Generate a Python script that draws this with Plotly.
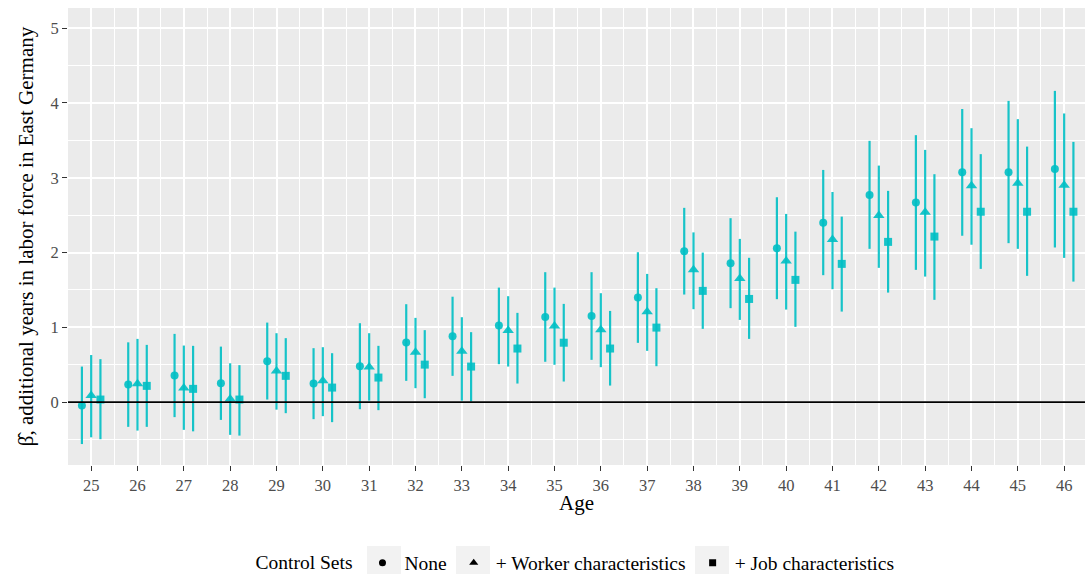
import plotly.graph_objects as go

ages = list(range(25, 47))

none_est = [-0.045, 0.235, 0.356, 0.254, 0.548, 0.249, 0.481, 0.797, 0.882, 1.024, 1.14, 1.152,
            1.40, 2.019, 1.858, 2.058, 2.40, 2.771, 2.668, 3.075, 3.075, 3.117]
none_lo = [-0.56, -0.33, -0.20, -0.237, 0.035, -0.227, -0.094, 0.285, 0.352, 0.508, 0.54, 0.566,
           0.793, 1.439, 1.257, 1.377, 1.698, 2.05, 1.769, 2.225, 2.126, 2.068]
none_hi = [0.476, 0.80, 0.913, 0.743, 1.064, 0.722, 1.056, 1.31, 1.41, 1.532, 1.738, 1.738,
           2.005, 2.598, 2.46, 2.74, 3.105, 3.494, 3.57, 3.92, 4.028, 4.162]

worker_est = [0.088, 0.245, 0.19, 0.044, 0.418, 0.285, 0.47, 0.668, 0.68, 0.957, 1.02, 0.967,
              1.21, 1.769, 1.652, 1.889, 2.174, 2.495, 2.54, 2.894, 2.928, 2.9]
worker_lo = [-0.47, -0.38, -0.37, -0.437, -0.10, -0.187, 0.02, 0.187, 0.02, 0.476, 0.50, 0.468,
             0.686, 1.243, 1.10, 1.238, 1.511, 1.796, 1.679, 2.105, 2.05, 1.929]
worker_hi = [0.63, 0.846, 0.757, 0.52, 0.922, 0.735, 0.922, 1.127, 1.136, 1.417, 1.532, 1.457,
             1.715, 2.27, 2.183, 2.517, 2.81, 3.163, 3.373, 3.663, 3.784, 3.86]

job_est = [0.035, 0.218, 0.178, 0.035, 0.352, 0.195, 0.329, 0.502, 0.476, 0.717, 0.795, 0.717,
           0.997, 1.488, 1.38, 1.635, 1.849, 2.143, 2.214, 2.546, 2.546, 2.546]
job_lo = [-0.495, -0.33, -0.39, -0.447, -0.147, -0.267, -0.107, 0.053, 0.01, 0.249, 0.276, 0.222,
          0.481, 0.98, 0.846, 1.007, 1.211, 1.465, 1.368, 1.782, 1.689, 1.612]
job_hi = [0.575, 0.766, 0.753, 0.495, 0.856, 0.655, 0.753, 0.963, 0.936, 1.194, 1.314, 1.22,
          1.524, 2.0, 1.93, 2.28, 2.481, 2.825, 3.048, 3.316, 3.417, 3.48]

series_names = ["None", "+ Worker characteristics", "+ Job characteristics"]
symbols = ["circle", "triangle-up", "square"]
sizes = [8, 10, 8]
dodge = [-0.2, 0.0, 0.2]

TEAL = "rgba(0,191,196,0.9)"
FONT = "Liberation Serif, Times New Roman, serif"

fig = go.Figure()

series = [(none_est, none_lo, none_hi), (worker_est, worker_lo, worker_hi), (job_est, job_lo, job_hi)]
for (est, lo, hi), name, sym, sz, dx in zip(series, series_names, symbols, sizes, dodge):
    fig.add_trace(go.Scatter(
        x=[a + dx for a in ages], y=est, mode="markers", showlegend=False, name=name,
        marker=dict(symbol=sym, size=sz, color=TEAL, line=dict(width=0)),
        error_y=dict(type="data", symmetric=False,
                     array=[h - e for h, e in zip(hi, est)],
                     arrayminus=[e - l for e, l in zip(est, lo)],
                     color=TEAL, thickness=2.2, width=0),
    ))

# legend entries (black keys as in the original)
for name, sym in zip(series_names, symbols):
    fig.add_trace(go.Scatter(
        x=[None], y=[None], mode="markers", name=name,
        marker=dict(symbol=sym, size=7 if sym != "triangle-up" else 8, color="black"),
    ))

fig.add_shape(type="line", xref="paper", x0=0, x1=1, yref="y", y0=0, y1=0,
              line=dict(color="black", width=1.6), layer="above")

# grey legend key backgrounds (ggplot legend.key)
for cx in (384, 473, 712):
    fig.add_shape(type="rect", xref="paper", yref="paper",
                  x0=(cx - 17 - 68) / 1017, x1=(cx + 17 - 68) / 1017,
                  y0=(465 - 582) / 457, y1=(465 - 546) / 457,
                  fillcolor="#F2F2F2", line=dict(width=0), layer="above")

# x-axis title
fig.add_annotation(text="Age", xref="paper", yref="paper", x=0.5, y=(465 - 503) / 457,
                   xanchor="center", yanchor="middle", showarrow=False,
                   font=dict(size=21, color="black", family=FONT))

fig.update_layout(
    width=1085, height=574,
    margin=dict(l=68, r=0, t=8, b=109, autoexpand=False),
    paper_bgcolor="white", plot_bgcolor="#EBEBEB",
    font=dict(family=FONT, color="black"),
    showlegend=True,
    legend=dict(orientation="h", x=0.5, xanchor="center",
                yref="container", y=0.019, yanchor="middle",
                itemwidth=34,
                title=dict(text="Control Sets", font=dict(size=19.5, family=FONT)),
                font=dict(size=19.5, family=FONT), bgcolor="rgba(0,0,0,0)"),
    xaxis=dict(
        range=[24.5, 46.45], tickmode="array", tickvals=ages, ticktext=[str(a) for a in ages],
        showgrid=True, gridcolor="white", gridwidth=1.6, zeroline=False,
        minor=dict(dtick=0.5, tick0=0.5, showgrid=True, gridcolor="white", gridwidth=0.8),
        ticks="outside", ticklen=5, tickwidth=1.3, tickcolor="#333333",
        tickfont=dict(size=16.5, color="#4D4D4D", family=FONT),
        showline=False, fixedrange=True, automargin=False,
    ),
    yaxis=dict(
        range=[-0.84, 5.27], tickmode="array", tickvals=[0, 1, 2, 3, 4, 5],
        showgrid=True, gridcolor="white", gridwidth=1.6, zeroline=False,
        minor=dict(dtick=0.5, tick0=0.5, showgrid=True, gridcolor="white", gridwidth=0.8),
        ticks="outside", ticklen=5, tickwidth=1.3, tickcolor="#333333",
        tickfont=dict(size=16.5, color="#4D4D4D", family=FONT),
        title=dict(text="β\u0302, additional years in labor force in East Germany",
                   font=dict(size=21, color="black", family=FONT), standoff=11),
        showline=False, fixedrange=True, automargin=False,
    ),
)

fig.write_html("out.html")
